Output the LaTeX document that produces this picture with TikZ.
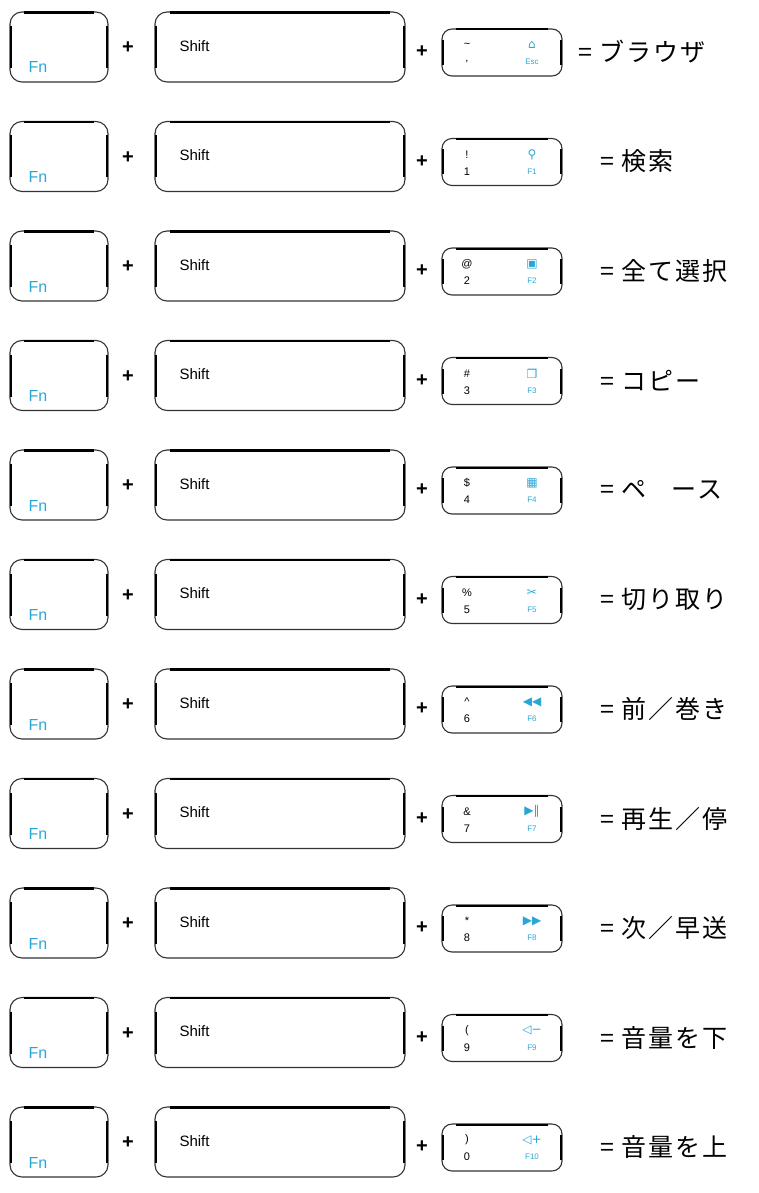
\documentclass[tikz,border=0pt]{standalone}
\usepackage{fontspec}
\setsansfont{Liberation Sans}
\newfontfamily\jp[LetterSpace=8]{Noto Sans CJK JP}
\newfontfamily\dv{DejaVu Sans}
\definecolor{keyblue}{HTML}{2AA6D6}
\tikzset{
 keybox/.style={draw=black!80, line width=1.1pt, rounded corners=12pt},
 fnlbl/.style={font=\sffamily\fontsize{16}{16}\selectfont, text=keyblue, anchor=base west},
 shlbl/.style={font=\sffamily\fontsize{15}{15}\selectfont, anchor=west},
 pluslbl/.style={font=\sffamily\bfseries\fontsize{20}{20}\selectfont},
 smlbl/.style={font=\sffamily\fontsize{11}{11}\selectfont},
 iconlbl/.style={font=\dv\fontsize{12}{12}\selectfont, text=keyblue},
 flbl/.style={font=\sffamily\fontsize{8}{8}\selectfont, text=keyblue},
 resultlbl/.style={font=\jp\fontsize{25}{25}\selectfont, anchor=west, inner sep=0pt},
}
\begin{document}
\begin{tikzpicture}[x=1pt,y=-1pt]
\useasboundingbox (0,0) rectangle (759,1193);
\clip (0,0) rectangle (759,1193);
\foreach \i/\sym/\num/\icon/\fk/\res/\rx in {
 0/{\textasciitilde}/{,}/{⌂}/Esc/{= ブラウザ}/578,
 1/!/1/{⚲}/F1/{= 検索}/600,
 2/@/2/{▣}/F2/{= 全て選択}/600,
 3/\#/3/{❐}/F3/{= コピー}/600,
 4/\$/4/{▦}/F4/{= ペ\hspace{1em}ース}/600,
 5/\%/5/{✂}/F5/{= 切り取り}/600,
 6/\textasciicircum/6/{◀◀}/F6/{= 前／巻き}/600,
 7/\&/7/{▶‖}/F7/{= 再生／停}/600,
 8/*/8/{▶▶}/F8/{= 次／早送}/600,
 9/(/9/{◁−}/F9/{= 音量を下}/600,
 10/)/0/{◁+}/F10/{= 音量を上}/600}{
 \pgfmathsetmacro{\y}{46+109.5*\i}
 % Fn key
 \draw[keybox] (10,\y-34) rectangle (108,\y+36);
 \draw[line width=2.6pt] (11,\y-20) -- (11,\y+22) (107,\y-20) -- (107,\y+22);
 \draw[line width=2.4pt] (24,\y-33.5) -- (94,\y-33.5);
 \node[fnlbl] (fn\i) at (25,\y+27) {Fn};
 \node[pluslbl] (p\i) at (128,\y+2) {+};
 % Shift key
 \draw[keybox] (155,\y-34) rectangle (405,\y+36);
 \draw[line width=2.6pt] (156,\y-20) -- (156,\y+22) (404,\y-20) -- (404,\y+22);
 \draw[line width=2.4pt] (170,\y-33.5) -- (390,\y-33.5);
 \node[shlbl] (sh\i) at (176,\y) {Shift};
 \node[pluslbl] (q\i) at (422,\y+6) {+};
 % small key
 \draw[keybox,rounded corners=10pt] (442,\y-17) rectangle (562,\y+30);
 \draw[line width=2.4pt] (443,\y-6) -- (443,\y+19) (561,\y-6) -- (561,\y+19);
 \draw[line width=2pt] (456,\y-16.5) -- (548,\y-16.5);
 \node[smlbl] (s\i) at (467,\y-1) {\sym};
 \node[smlbl] (n\i) at (467,\y+16) {\num};
 \node[iconlbl] (ic\i) at (532,\y-1) {\icon};
 \node[flbl] (fk\i) at (532,\y+16) {\fk};
 \node[resultlbl] (r\i) at (\rx,\y+6) {\res};
}
\end{tikzpicture}
\end{document}
